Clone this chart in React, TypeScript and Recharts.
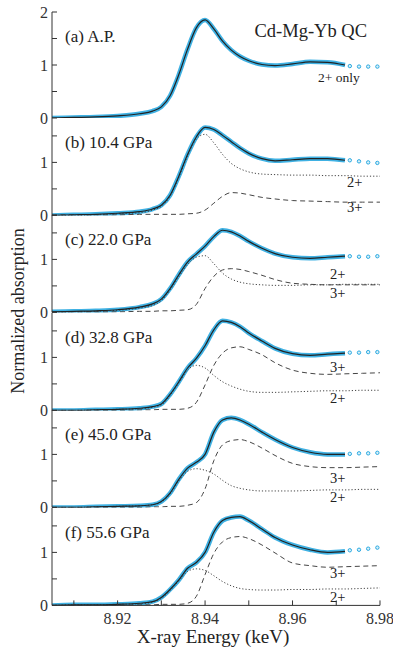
import { LineChart, Line, XAxis, YAxis } from 'recharts'

const SERIF = 'Liberation Serif, Times New Roman, serif'
const INK = '#333'
const CYAN = '#2aa9e0'

// energy grid (keV) the curves are read on
const ENERGY = [
  8.905, 8.91, 8.915, 8.92, 8.925, 8.928, 8.93, 8.932, 8.934, 8.936, 8.938, 8.94,
  8.942, 8.944, 8.946, 8.948, 8.95, 8.953, 8.956, 8.96, 8.964, 8.968, 8.972, 8.976, 8.98,
]
// sparse measured points past the end of the fit
const TAIL_E = [8.9731, 8.9752, 8.9773, 8.9794]

const X_TICKS = [8.91, 8.92, 8.93, 8.94, 8.95, 8.96, 8.97, 8.98]
const X_LABELS = [8.92, 8.94, 8.96, 8.98]
const Y_TICKS_A = [0, 0.5, 1, 1.5, 2]
const Y_TICKS = [0, 0.5, 1, 1.5]

// (a) A.P.
const FIT_A = [0, 0.01, 0.02, 0.04, 0.08, 0.13, 0.21, 0.42, 0.82, 1.3, 1.7, 1.85, 1.68, 1.45, 1.28, 1.16, 1.08, 1.01, 0.99, 1.02, 1.06, 1.05, 1.0, null, null]
const TAIL_A = [0.98, 0.97, 0.97, 0.97]

// (b) 10.4 GPa
const FIT_B = [0, 0.01, 0.02, 0.04, 0.07, 0.12, 0.19, 0.38, 0.74, 1.15, 1.48, 1.66, 1.62, 1.51, 1.39, 1.27, 1.17, 1.07, 1.03, 1.05, 1.07, 1.07, 1.04, null, null]
const P2_B = [0, 0, 0.01, 0.03, 0.05, 0.1, 0.17, 0.36, 0.72, 1.12, 1.44, 1.53, 1.37, 1.15, 0.98, 0.88, 0.82, 0.78, 0.77, 0.76, 0.76, 0.75, 0.75, 0.74, 0.74]
const P3_B = [0.01, 0.01, 0.01, 0.01, 0.02, 0.02, 0.02, 0.02, 0.02, 0.03, 0.04, 0.1, 0.23, 0.36, 0.43, 0.42, 0.39, 0.34, 0.31, 0.28, 0.27, 0.26, 0.25, 0.25, 0.25]
const TAIL_B = [1.04, 1.02, 1.0, 0.99]

// (c) 22.0 GPa
const FIT_C = [0.01, 0.02, 0.03, 0.05, 0.1, 0.16, 0.25, 0.45, 0.71, 0.95, 1.1, 1.25, 1.43, 1.55, 1.52, 1.44, 1.34, 1.21, 1.11, 1.04, 1.02, 1.04, 1.06, null, null]
const P2_C = [0, 0.01, 0.02, 0.04, 0.08, 0.13, 0.22, 0.42, 0.67, 0.9, 1.04, 1.07, 0.92, 0.74, 0.63, 0.57, 0.54, 0.52, 0.51, 0.51, 0.52, 0.52, 0.53, 0.53, 0.53]
const P3_C = [0.01, 0.01, 0.01, 0.01, 0.02, 0.02, 0.03, 0.03, 0.04, 0.05, 0.15, 0.45, 0.68, 0.8, 0.825, 0.81, 0.77, 0.7, 0.62, 0.55, 0.53, 0.52, 0.52, 0.52, 0.52]
const TAIL_C = [1.06, 1.05, 1.05, 1.06]

// (d) 32.8 GPa
const FIT_D = [0, 0, 0.01, 0.02, 0.04, 0.07, 0.12, 0.3, 0.54, 0.8, 0.98, 1.22, 1.52, 1.69, 1.66, 1.58, 1.46, 1.31, 1.17, 1.07, 1.04, 1.06, 1.08, null, null]
const P2_D = [0, 0, 0.01, 0.02, 0.03, 0.06, 0.1, 0.28, 0.52, 0.76, 0.85, 0.8, 0.66, 0.54, 0.46, 0.4, 0.36, 0.34, 0.34, 0.35, 0.36, 0.37, 0.37, 0.38, 0.38]
const P3_D = [0, 0, 0, 0, 0.01, 0.01, 0.02, 0.02, 0.02, 0.04, 0.15, 0.48, 0.85, 1.08, 1.18, 1.2, 1.15, 1.05, 0.9, 0.76, 0.7, 0.68, 0.69, 0.7, 0.71]
const TAIL_D = [1.09, 1.09, 1.1, 1.1]

// (e) 45.0 GPa
const FIT_E = [0, 0, 0.01, 0.02, 0.03, 0.05, 0.11, 0.27, 0.53, 0.74, 0.85, 1.0, 1.42, 1.65, 1.69, 1.65, 1.57, 1.42, 1.28, 1.13, 1.04, 1.0, 1.0, null, null]
const P2_E = [0, 0, 0.01, 0.02, 0.03, 0.05, 0.1, 0.25, 0.5, 0.68, 0.73, 0.7, 0.63, 0.51, 0.41, 0.36, 0.33, 0.31, 0.31, 0.31, 0.32, 0.33, 0.33, 0.34, 0.34]
const P3_E = [0, 0, 0, 0, 0, 0.01, 0.01, 0.02, 0.02, 0.04, 0.09, 0.35, 0.88, 1.18, 1.26, 1.28, 1.24, 1.12, 0.98, 0.83, 0.77, 0.75, 0.75, 0.76, 0.77]
const TAIL_E_VALS = [1.01, 1.02, 1.02, 1.03]

// (f) 55.6 GPa
const FIT_F = [0, 0.01, 0.01, 0.02, 0.04, 0.07, 0.15, 0.3, 0.48, 0.7, 0.81, 1.0, 1.38, 1.6, 1.66, 1.675, 1.6, 1.44, 1.28, 1.14, 1.05, 1.0, 1.02, null, null]
const P2_F = [0, 0.01, 0.01, 0.02, 0.03, 0.06, 0.13, 0.28, 0.46, 0.64, 0.69, 0.66, 0.56, 0.45, 0.37, 0.32, 0.3, 0.29, 0.29, 0.3, 0.3, 0.31, 0.31, 0.32, 0.33]
const P3_F = [0, 0, 0, 0, 0.01, 0.01, 0.02, 0.02, 0.02, 0.04, 0.17, 0.58, 0.98, 1.2, 1.28, 1.3, 1.26, 1.14, 0.99, 0.8, 0.75, 0.72, 0.73, 0.74, 0.75]
const TAIL_F = [1.04, 1.05, 1.07, 1.09]

const PANEL_NAMES = ['(a) A.P.', '(b) 10.4 GPa', '(c) 22.0 GPa', '(d) 32.8 GPa', '(e) 45.0 GPa', '(f) 55.6 GPa']

type Row = { e: number; fit?: number | null; p2?: number; p3?: number; tail?: number }

function buildRows(fit: (number | null)[], p2: number[] | null, p3: number[] | null, tail: number[]): Row[] {
  const rows: Row[] = ENERGY.map((e, i) => ({
    e,
    fit: fit[i],
    p2: p2 ? p2[i] : undefined,
    p3: p3 ? p3[i] : undefined,
  }))
  TAIL_E.forEach((e, i) => rows.push({ e, tail: tail[i] }))
  return rows.sort((a, b) => a.e - b.e)
}

const PANELS = [
  buildRows(FIT_A, null, null, TAIL_A),
  buildRows(FIT_B, P2_B, P3_B, TAIL_B),
  buildRows(FIT_C, P2_C, P3_C, TAIL_C),
  buildRows(FIT_D, P2_D, P3_D, TAIL_D),
  buildRows(FIT_E, P2_E, P3_E, TAIL_E_VALS),
  buildRows(FIT_F, P2_F, P3_F, TAIL_F),
]

const PX_PER_UNIT = 53
const PANEL_H = 97.4

const tickStyle = { fill: INK, fontSize: 16, fontFamily: SERIF }

function Panel({ rows, top, plotH, yMax, yTicks, last }: {
  rows: Row[]; top: number; plotH: number; yMax: number; yTicks: number[]; last: boolean
}) {
  const m = 10
  const axisH = last ? 30 : 0
  return (
    <div style={{ position: 'absolute', left: 0, top: top - m }}>
      <LineChart
        width={393}
        height={plotH + 2 * m + axisH}
        data={rows}
        margin={{ top: m, right: 13, bottom: m, left: 12 }}
      >
        <XAxis
          xAxisId="b"
          dataKey="e"
          type="number"
          domain={[8.905, 8.98]}
          allowDataOverflow
          ticks={X_TICKS}
          interval={0}
          height={axisH}
          tickSize={-5}
          tickMargin={12}
          tickFormatter={(v: number) => (last && X_LABELS.some(l => Math.abs(l - v) < 1e-6) ? v.toFixed(2) : '')}
          axisLine={{ stroke: INK }}
          tickLine={{ stroke: INK }}
          tick={tickStyle}
        />
        <XAxis
          xAxisId="t"
          orientation="top"
          dataKey="e"
          type="number"
          domain={[8.905, 8.98]}
          allowDataOverflow
          ticks={X_TICKS}
          interval={0}
          height={0}
          tickSize={-5}
          tickFormatter={() => ''}
          axisLine={{ stroke: INK }}
          tickLine={{ stroke: INK }}
        />
        <YAxis
          yAxisId="l"
          type="number"
          domain={[0, yMax]}
          allowDataOverflow
          ticks={yTicks}
          interval={0}
          width={40}
          tickSize={-5}
          tickMargin={9}
          tickFormatter={(v: number) => (Number.isInteger(v) ? String(v) : '')}
          axisLine={{ stroke: INK }}
          tickLine={{ stroke: INK }}
          tick={tickStyle}
        />
        <YAxis
          yAxisId="r"
          orientation="right"
          type="number"
          domain={[0, yMax]}
          allowDataOverflow
          ticks={yTicks}
          interval={0}
          width={0}
          tickSize={-5}
          tickFormatter={() => ''}
          axisLine={{ stroke: INK }}
          tickLine={{ stroke: INK }}
        />
        {/* measured data: dense band, then sparse points */}
        <Line xAxisId="b" yAxisId="l" type="monotone" dataKey="fit" stroke={CYAN} strokeWidth={4.5} strokeOpacity={0.9} dot={false} isAnimationActive={false} />
        <Line xAxisId="b" yAxisId="l" type="monotone" dataKey="tail" stroke="none" connectNulls
          dot={{ r: 1.7, stroke: CYAN, strokeWidth: 1, fill: '#d8f0fa' }} isAnimationActive={false} />
        <Line xAxisId="b" yAxisId="l" type="monotone" dataKey="p2" stroke="#444" strokeWidth={1} strokeDasharray="1.2 2" connectNulls dot={false} isAnimationActive={false} />
        <Line xAxisId="b" yAxisId="l" type="monotone" dataKey="p3" stroke="#444" strokeWidth={1} strokeDasharray="5 3.5" connectNulls dot={false} isAnimationActive={false} />
        <Line xAxisId="b" yAxisId="l" type="monotone" dataKey="fit" stroke="#222" strokeWidth={1.2} dot={false} isAnimationActive={false} />
      </LineChart>
    </div>
  )
}

export default function App() {
  const tops = [12, 118, 118 + PANEL_H, 118 + 2 * PANEL_H, 118 + 3 * PANEL_H, 118 + 4 * PANEL_H]
  const txt = { fill: '#222', fontFamily: SERIF }
  return (
    <div style={{ position: 'absolute', left: 0, top: 0, width: 393, height: 648, background: '#fff' }}>
      {PANELS.map((rows, i) => (
        <Panel
          key={i}
          rows={rows}
          top={tops[i]}
          plotH={i === 0 ? 2 * PX_PER_UNIT : PANEL_H}
          yMax={i === 0 ? 2 : PANEL_H / PX_PER_UNIT}
          yTicks={i === 0 ? Y_TICKS_A : Y_TICKS}
          last={i === PANELS.length - 1}
        />
      ))}
      <svg width={393} height={648} style={{ position: 'absolute', left: 0, top: 0, pointerEvents: 'none' }}>
        {PANEL_NAMES.map((name, i) => (
          <text key={name} x={65} y={tops[i] + 30} fontSize={17} {...txt}>{name}</text>
        ))}
        <text x={367} y={37} fontSize={18.5} textAnchor="end" {...txt}>Cd-Mg-Yb QC</text>
        <text x={318} y={82} fontSize={13.5} {...txt}>2+ only</text>

        <text x={347} y={187} fontSize={14.5} {...txt}>2+</text>
        <text x={347} y={212} fontSize={14.5} {...txt}>3+</text>
        <text x={330} y={279} fontSize={14.5} {...txt}>2+</text>
        <text x={330} y={298} fontSize={14.5} {...txt}>3+</text>
        <text x={330} y={372} fontSize={14.5} {...txt}>3+</text>
        <text x={330} y={403} fontSize={14.5} {...txt}>2+</text>
        <text x={330} y={483} fontSize={14.5} {...txt}>3+</text>
        <text x={330} y={502} fontSize={14.5} {...txt}>2+</text>
        <text x={330} y={578} fontSize={14.5} {...txt}>3+</text>
        <text x={330} y={602} fontSize={14.5} {...txt}>2+</text>

        <text x={213} y={643} fontSize={19} textAnchor="middle" {...txt}>X-ray Energy (keV)</text>
        <text x={24} y={311} fontSize={18} textAnchor="middle" transform="rotate(-90 24 311)" {...txt}>
          Normalized absorption
        </text>
      </svg>
    </div>
  )
}
